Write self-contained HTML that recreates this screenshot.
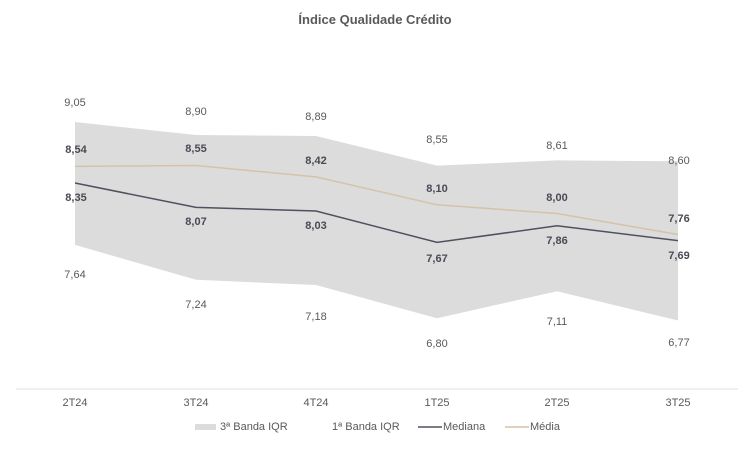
<!DOCTYPE html>
<html><head><meta charset="utf-8"><style>
html,body{margin:0;padding:0;background:#fff;}
svg{display:block;font-family:"Liberation Sans",sans-serif;}
</style></head><body>
<svg width="750" height="450" viewBox="0 0 750 450">
<text x="375" y="24" text-anchor="middle" font-size="13" font-weight="bold" fill="#595959">Índice Qualidade Crédito</text>
<polygon points="75,122 196,135 316,136 437,165.6 557,160.4 678,161.3 678,320.5 557,291.2 437,318.2 316,285 196,279.8 75,244.9" fill="#dcdcdc"/>
<polyline points="75,166.4 196,165.5 316,176.9 437,204.8 557,213.5 678,234.5" fill="none" stroke="#d4c3a8" stroke-width="1.5"/>
<polyline points="75,183 196,207.4 316,211 437,242.4 557,225.8 678,240.6" fill="none" stroke="#50505e" stroke-width="1.5"/>
<line x1="16" y1="389" x2="738" y2="389" stroke="#e0e0e0" stroke-width="1"/>
<g font-size="11" fill="#595959" text-anchor="middle" dominant-baseline="central">
<text x="75" y="103">9,05</text><text x="196" y="112">8,90</text><text x="316" y="117">8,89</text>
<text x="437" y="140">8,55</text><text x="557" y="146">8,61</text><text x="679" y="161">8,60</text>
<text x="75" y="275">7,64</text><text x="196" y="305">7,24</text><text x="316" y="317">7,18</text>
<text x="437" y="344">6,80</text><text x="557" y="322">7,11</text><text x="679" y="343">6,77</text>
</g>
<g font-size="11" font-weight="bold" fill="#4a4a55" text-anchor="middle" dominant-baseline="central">
<text x="76" y="150">8,54</text><text x="196" y="149">8,55</text><text x="316" y="161">8,42</text>
<text x="437" y="189">8,10</text><text x="557" y="198">8,00</text><text x="679" y="219">7,76</text>
<text x="76" y="198">8,35</text><text x="196" y="222">8,07</text><text x="316" y="226">8,03</text>
<text x="437" y="259">7,67</text><text x="557" y="241">7,86</text><text x="679" y="256">7,69</text>
</g>
<g font-size="11" fill="#595959" text-anchor="middle" dominant-baseline="central">
<text x="75" y="403">2T24</text><text x="196" y="403">3T24</text><text x="316" y="403">4T24</text>
<text x="437" y="403">1T25</text><text x="557" y="403">2T25</text><text x="678" y="403">3T25</text>
</g>
<g font-size="11" fill="#595959" dominant-baseline="central">
<rect x="195" y="424" width="21" height="6" fill="#dcdcdc"/>
<text x="220" y="427">3ª Banda IQR</text>
<text x="332" y="427">1ª Banda IQR</text>
<line x1="418" y1="427" x2="442" y2="427" stroke="#50505e" stroke-width="1.5"/>
<text x="443" y="427">Mediana</text>
<line x1="505" y1="427" x2="529" y2="427" stroke="#d4c3a8" stroke-width="1.5"/>
<text x="530" y="427">Média</text>
</g>
</svg>
</body></html>
